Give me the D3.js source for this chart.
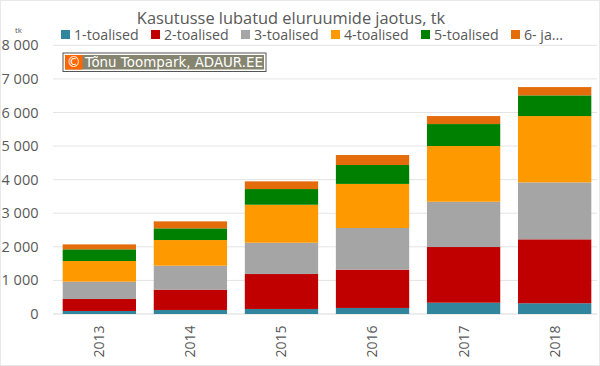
<!DOCTYPE html>
<html><head><meta charset="utf-8">
<script src="https://cdn.jsdelivr.net/npm/d3@7"></script>
<style>html,body{margin:0;padding:0;background:#fff}svg{display:block}text{font-family:"Open Sans",sans-serif}</style>
</head><body><div id="c"></div>
<script>
const years=["2013","2014","2015","2016","2017","2018"];
const seriesNames=["1-toalised","2-toalised","3-toalised","4-toalised","5-toalised","6- ja..."];
const seriesColors=["#31859c","#c00000","#a5a5a5","#ff9900","#008000","#e46c0a"];
const s1=[90,120,150,180,336,320];
const s2=[356,603,1040,1140,1658,1903];
const s3=[516,715,932,1241,1348,1696];
const s4=[615,764,1131,1312,1658,1974];
const s5=[348,348,467,563,655,616];
const s6=[148,208,229,297,238,247];
const yTicks=[0,1000,2000,3000,4000,5000,6000,7000,8000];
const allSeries=[s1,s2,s3,s4,s5,s6];
const W=600,H=366;
const svg=d3.select("#c").append("svg").attr("width",W).attr("height",H);
svg.append("rect").attr("x",0.5).attr("y",0.5).attr("width",W-1).attr("height",H-1).attr("fill","#fff").attr("stroke","#e8e8e8");
const x=d3.scaleBand().domain(years).range([53.8,600.2]).paddingInner(0.195).paddingOuter(0.0975);
const y=d3.scaleLinear().domain([0,8000]).range([314,45.3]);
const fmt=v=>d3.format(",")(v).replace(/,/g," ");
const grid=svg.append("g");
grid.selectAll("line").data(yTicks).join("line")
 .attr("x1",53).attr("x2",597).attr("y1",d=>y(d)).attr("y2",d=>y(d))
 .attr("stroke",d=>d===0?"#d9d9d9":"#e4e4e4").attr("stroke-width",1);
svg.append("g").selectAll("text").data(yTicks).join("text")
 .attr("x",38.5).attr("y",d=>y(d)).attr("dy","0.35em").attr("text-anchor","end")
 .attr("font-size",14.5).attr("fill","#595959").text(fmt);
svg.append("text").attr("x",18.5).attr("y",33).attr("text-anchor","middle").attr("font-size",8).attr("fill","#595959").text("tk");
const stackData=years.map((yr,i)=>{const o={year:yr};seriesNames.forEach((n,j)=>o[n]=allSeries[j][i]);return o;});
const stacked=d3.stack().keys(seriesNames)(stackData);
svg.append("g").selectAll("g").data(stacked).join("g").attr("fill",(d,i)=>seriesColors[i])
 .selectAll("rect").data(d=>d).join("rect")
 .attr("x",d=>x(d.data.year)).attr("width",x.bandwidth())
 .attr("y",d=>y(d[1])).attr("height",d=>y(d[0])-y(d[1]));
svg.append("g").selectAll("text").data(years).join("text")
 .attr("transform",d=>`translate(${x(d)+x.bandwidth()/2},357.5) rotate(-90)`)
 .attr("dy","0.35em").attr("font-size",14).attr("fill","#595959").text(d=>d);
svg.append("text").attr("x",291).attr("y",23.5).attr("text-anchor","middle").attr("font-size",16.4).attr("fill","#595959").text("Kasutusse lubatud eluruumide jaotus, tk");
const legendX=[61,151,241,331,421,511];
const leg=svg.append("g").selectAll("g").data(seriesNames).join("g").attr("transform",(d,i)=>`translate(${legendX[i]},30)`);
leg.append("rect").attr("width",9).attr("height",9).attr("fill",(d,i)=>seriesColors[i]);
leg.append("text").attr("x",13).attr("y",4.8).attr("dy","0.35em").attr("font-size",14.2).attr("fill","#595959").text(d=>d);
const cr=svg.append("g");
cr.append("rect").attr("x",63).attr("y",53).attr("width",203).attr("height",18.5).attr("fill","#ffffff").attr("stroke","#555").attr("stroke-width",1);
cr.append("rect").attr("x",65).attr("y",55).attr("width",199).attr("height",14.5).attr("fill","#85856f");
cr.append("rect").attr("x",65).attr("y",55).attr("width",17.5).attr("height",14.5).attr("fill","#ff6600");
cr.append("text").attr("x",73.7).attr("y",62.3).attr("dy","0.35em").attr("text-anchor","middle").attr("font-size",14).attr("style","font-family:'DejaVu Sans'").attr("fill","#fff").text("©");
cr.append("text").attr("x",85).attr("y",62.3).attr("dy","0.35em").attr("font-size",13.4).attr("style","font-family:'DejaVu Sans'").attr("fill","#fff").text("Tõnu Toompark, ADAUR.EE");
</script></body></html>
